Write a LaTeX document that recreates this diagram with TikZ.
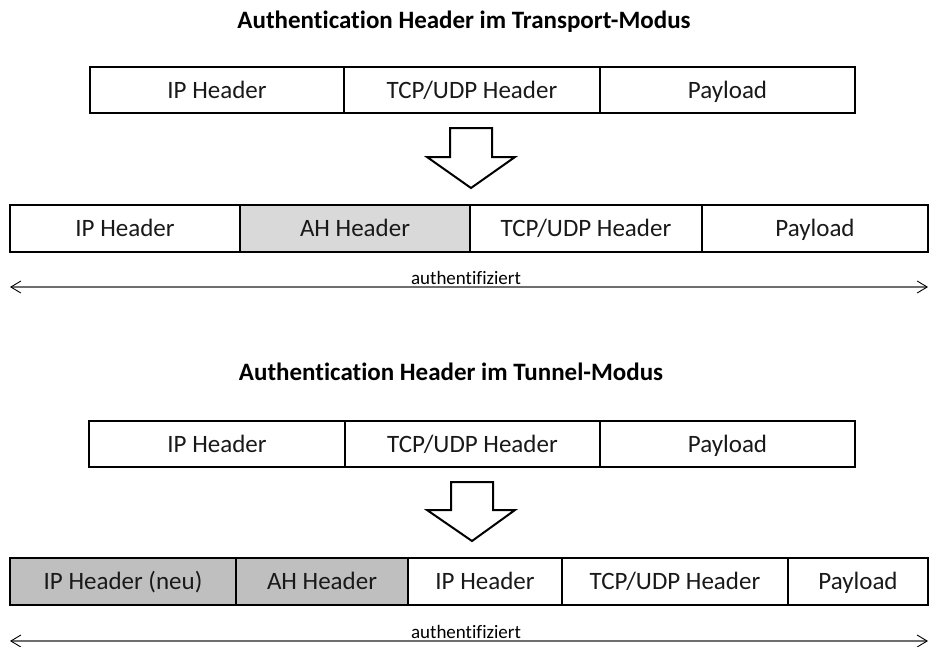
\documentclass[tikz,border=0pt]{standalone}
\usepackage{fontspec}
\setmainfont[Ligatures={NoCommon}]{Carlito}
\usetikzlibrary{arrows.meta}

\definecolor{ahgray}{HTML}{D9D9D9}
\definecolor{tunnelgray}{HTML}{BFBFBF}
\definecolor{spangray}{HTML}{6E6E6E}

\tikzset{
  cell/.style={draw=black, line width=1.4pt, inner sep=0pt, outer sep=0pt,
    font=\fontsize{25}{29}\selectfont, text=black!90,
    text height=16.1pt, text depth=0pt},
  title/.style={font=\fontsize{25}{29}\selectfont\bfseries, inner sep=0pt,
    text height=16.1pt, text depth=0pt},
  blockarrow/.style={draw=black, line width=2pt, fill=white, line join=miter},
  span/.style={draw=spangray, line width=1.6pt,
    {Straight Barb[length=10pt,width=12pt,line width=0.9pt,color=black]}-{Straight Barb[length=10pt,width=12pt,line width=0.9pt,color=black]}},
  spanlabel/.style={font=\fontsize{19}{22}\selectfont, inner sep=1pt, anchor=south}
}

\newcommand{\cellat}[7]{% name, x1, x2, yc, height, fill, text
  \node[cell, fill=#6, minimum width={(#3)-(#2)}, minimum height=#5,
        anchor=center] (#1) at ({((#2)+(#3))/2},#4) {#7};}

\begin{document}
\begin{tikzpicture}[x=1pt,y=-1pt]
\path[use as bounding box] (0,0) rectangle (929,646);

% ---------- transport mode ----------
\node[title] (t1) at (464,20) {Authentication Header im Transport-Modus};

\cellat{a1}{90}{344}{90}{46}{white}{IP Header}
\cellat{a2}{344}{600}{90}{46}{white}{TCP/UDP Header}
\cellat{a3}{600}{855}{90}{46}{white}{Payload}

\draw[blockarrow] (450,128) -- (492,128) -- (492,157) -- (515,157)
  -- (471,188) -- (427,157) -- (450,157) -- cycle;

\cellat{b1}{10}{240}{228.5}{47}{white}{IP Header}
\cellat{b2}{240}{470}{228.5}{47}{ahgray}{AH Header}
\cellat{b3}{470}{702}{228.5}{47}{white}{TCP/UDP Header}
\cellat{b4}{702}{928}{228.5}{47}{white}{Payload}

\coordinate (s1l) at (10,287);
\coordinate (s1r) at (928,287);
\draw[span] (s1l) -- (s1r);
\node[spanlabel] (l1) at (466,286) {authentifiziert};

% ---------- tunnel mode ----------
\node[title] (t2) at (451,372) {Authentication Header im Tunnel-Modus};

\cellat{c1}{89}{345}{444}{46}{white}{IP Header}
\cellat{c2}{345}{600}{444}{46}{white}{TCP/UDP Header}
\cellat{c3}{600}{855}{444}{46}{white}{Payload}

\draw[blockarrow] (451,482) -- (493,482) -- (493,510) -- (515,510)
  -- (472,541) -- (427,510) -- (451,510) -- cycle;

\cellat{d1}{10}{236}{581.5}{47}{tunnelgray}{IP Header (neu)}
\cellat{d2}{236}{408}{581.5}{47}{tunnelgray}{AH Header}
\cellat{d3}{408}{562}{581.5}{47}{white}{IP Header}
\cellat{d4}{562}{788}{581.5}{47}{white}{TCP/UDP Header}
\cellat{d5}{788}{928}{581.5}{47}{white}{Payload}

\coordinate (s2l) at (10,641);
\coordinate (s2r) at (928,641);
\draw[span] (s2l) -- (s2r);
\node[spanlabel] (l2) at (466,640) {authentifiziert};
\end{tikzpicture}
\end{document}
